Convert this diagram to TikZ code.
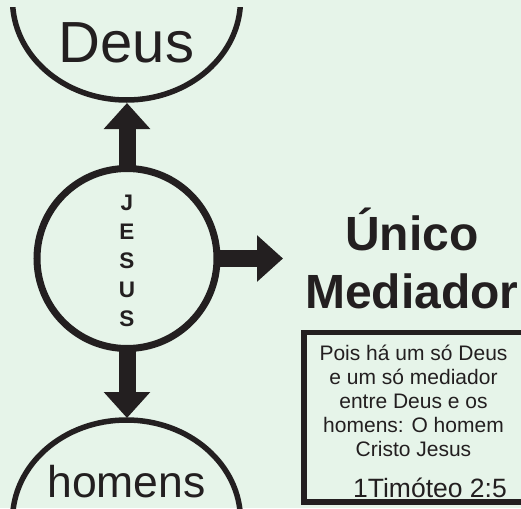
\documentclass[tikz,border=0pt]{standalone}
\usepackage{fontspec}
\setmainfont{Liberation Sans}
\usetikzlibrary{arrows.meta}
\definecolor{bg}{RGB}{230,244,233}
\definecolor{ink}{RGB}{35,31,32}
\begin{document}
\begin{tikzpicture}[x=1pt,y=-1pt,
  arcline/.style={draw=ink, line width=5.5pt},
  blockarrow/.style={draw=ink, line width=17pt, -{Triangle[width=45pt,length=26pt]}, shorten <=-4pt},
  txt/.style={text=ink, anchor=base, inner sep=0pt},
  boxtxt/.style={txt, font=\fontsize{21}{24}\selectfont}]
\useasboundingbox (0,0) rectangle (521,508);
\fill[bg] (0,0) rectangle (521,508);
% upper arc (Deus)
\begin{scope}
  \clip (0,8) rectangle (521,508);
  \draw[arcline] (126.5,0) ellipse [x radius=114, y radius=100];
\end{scope}
% lower arc (homens)
\draw[arcline] (126.5,520) ellipse [x radius=114, y radius=100];
% central circle
\node[circle, draw=ink, line width=7pt, minimum size=180pt, inner sep=0pt] (jesus) at (127,258.5) {};
% texts
\node[txt, font=\fontsize{58}{60}\selectfont] (deus) at (126.5,63) {Deus};
\node[txt, font=\fontsize{44.5}{46}\selectfont] (homens) at (126.5,497) {homens};
\foreach \l/\yy [count=\i] in {J/210,E/239,S/268,U/297,S/326}
  \node[txt, font=\fontsize{22.5}{24}\selectfont\bfseries] (js\i) at (127,\yy) {\l};
\node[txt, font=\fontsize{48}{50}\selectfont\bfseries] (unico) at (411.7,250) {Único};
\node[txt, font=\fontsize{48}{50}\selectfont\bfseries] (mediador) at (411.7,308) {Mediador};
% connectors
\coordinate (deusb) at (127,103);
\coordinate (homt) at (127,418);
\coordinate (medl) at (283,258.5);
\draw[blockarrow] (jesus.north) -- (deusb);
\draw[blockarrow] (jesus.south) -- (homt);
\draw[blockarrow] (jesus.east) -- (medl);
% verse box
\draw[draw=ink, line width=5.5pt] (530,332.5) -- (304,332.5) -- (304,502) -- (530,502);
\node[boxtxt] (v1) at (413.5,360.5) {Pois há um só Deus};
\node[boxtxt] (v2) at (413.5,384.4) {e um só mediador};
\node[boxtxt] (v3) at (413.5,408.3) {entre Deus e os};
\node[boxtxt] (v4) at (413.5,432.2) {homens: O homem};
\node[boxtxt] (v5) at (413.5,456.1) {Cristo Jesus};
\node[txt, font=\fontsize{26.5}{28}\selectfont] (ref) at (430,497) {1Timóteo 2:5};
\end{tikzpicture}
\end{document}
